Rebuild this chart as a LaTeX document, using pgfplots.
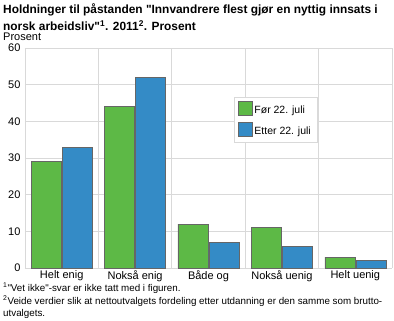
\documentclass[border=0pt]{standalone}
\usepackage{pgfplots}
\pgfplotsset{compat=1.18}
\usepackage{fontspec}
\setmainfont{Liberation Sans}[Ligatures=TeXOff]
\definecolor{sgreen}{HTML}{5DB946}
\definecolor{sblue}{HTML}{348BC6}
\definecolor{sgrid}{HTML}{D9D9D9}
\begin{document}
\begin{tikzpicture}
\useasboundingbox (0pt,-321pt) rectangle (394pt,0pt);
\node[anchor=north west,align=left,inner sep=0pt,font=\bfseries\fontsize{11.9}{16.5}\selectfont] at (3pt,-4pt)
{Holdninger til påstanden "Innvandrere flest gjør en nyttig innsats i\\norsk arbeidsliv"\textsuperscript{1}. 2011\textsuperscript{2}. Prosent};
\node[anchor=north west,inner sep=0pt,font=\fontsize{11}{12}\selectfont] at (3pt,-32.5pt) {Prosent};
\begin{axis}[
  at={(25pt,-268pt)}, anchor=south west,
  scale only axis, width=367pt, height=220pt,
  xmin=-0.5, xmax=4.5, ymin=0, ymax=60,
  ytick={0,10,...,60},
  xtick={0,1,2,3,4},
  xticklabels={Helt enig,Nokså enig,Både og,Nokså uenig,Helt uenig},
  extra x ticks={-0.5,0.5,1.5,2.5,3.5,4.5},
  extra x tick labels={},
  extra x tick style={grid=major, major grid style={sgrid, line width=0.8pt}, major tick length=0pt},
  ymajorgrids, major grid style={sgrid, line width=0.8pt},
  major tick length=0pt,
  axis line style={sgrid, line width=0.8pt},
  axis x line*=bottom, axis y line*=left,
  tick label style={font=\fontsize{11}{12}\selectfont},
  /pgf/number format/assume math mode=true,
  xticklabel style={yshift=1pt},
  yticklabel style={xshift=-1pt},
  ybar=1pt, bar width=30pt,
  legend style={at={(0.569,0.777)}, anchor=north west, draw=sgrid, fill=white,
    font=\fontsize{10.5}{12}\selectfont, row sep=5pt, inner xsep=4pt, inner ysep=4pt},
  legend cell align=left,
  legend image code/.code={\draw[#1] (0pt,-5pt) rectangle (14pt,9pt);},
]
\addplot[fill=sgreen, draw=black!60] coordinates {(0,29) (1,44) (2,12) (3,11) (4,3)};
\addplot[fill=sblue, draw=black!60] coordinates {(0,33) (1,52) (2,7) (3,6) (4,2)};
\legend{Før 22. juli, Etter 22. juli}
\end{axis}
\node[anchor=north west,align=left,inner sep=0pt,font=\fontsize{9.8}{12.5}\selectfont] at (3pt,-283pt)
{\textsuperscript{1}"Vet ikke"-svar er ikke tatt med i figuren.\\
\textsuperscript{2}Veide verdier slik at nettoutvalgets fordeling etter utdanning er den samme som brutto-\\utvalgets.};
\end{tikzpicture}
\end{document}
